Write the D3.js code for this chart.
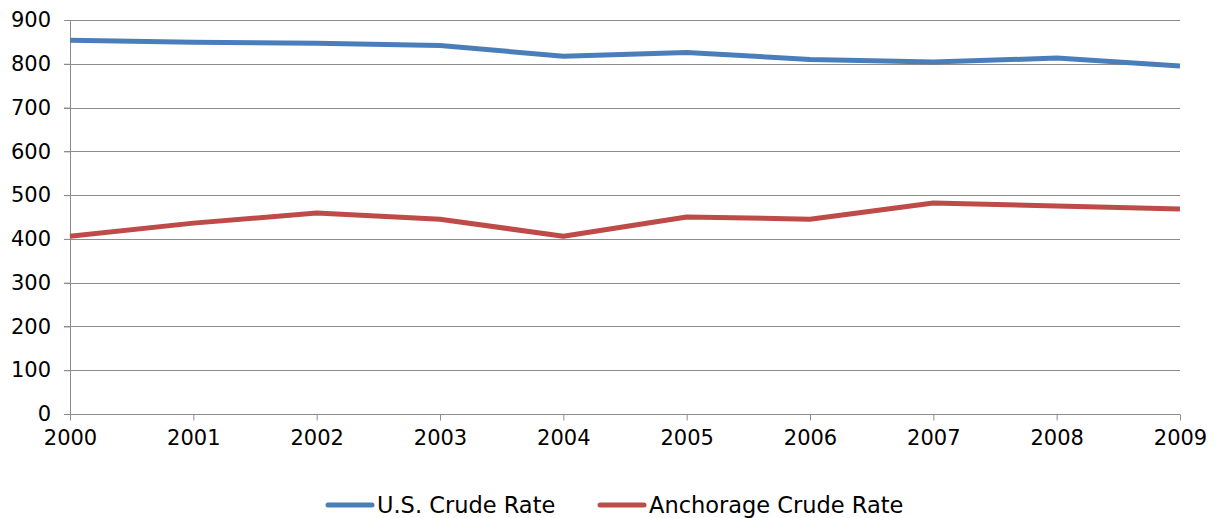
<!DOCTYPE html>
<html>
<head>
<meta charset="utf-8">
<script src="https://cdn.jsdelivr.net/npm/d3@7"></script>
<style>
  body { margin: 0; background: #fff; }
  svg { display: block; }
  svg text { font-family: "DejaVu Sans", sans-serif; fill: #000; }
</style>
</head>
<body>
<div id="chart"></div>
<script>
var years = [2000, 2001, 2002, 2003, 2004, 2005, 2006, 2007, 2008, 2009];
var usRate = [854, 849, 847, 842, 817, 826, 810, 804, 813, 795];
var anchorageRate = [406, 436, 459, 445, 406, 450, 445, 482, 475, 468];
var yTicks = [0, 100, 200, 300, 400, 500, 600, 700, 800, 900];
var seriesNames = ["U.S. Crude Rate", "Anchorage Crude Rate"];
var colors = ["#4a7ebb", "#be4b48"];

var width = 1215, height = 518;
var margin = { top: 20, right: 35, bottom: 104, left: 70 };
var innerWidth = width - margin.left - margin.right,
    innerHeight = height - margin.top - margin.bottom;

var svg = d3.select("#chart").append("svg")
    .attr("width", width)
    .attr("height", height);

var g = svg.append("g")
    .attr("transform", "translate(" + margin.left + "," + margin.top + ")");

var x = d3.scalePoint()
    .domain(years)
    .range([0, innerWidth]);

var y = d3.scaleLinear()
    .domain([0, 900])
    .range([innerHeight, 0]);

// gridlines
g.selectAll(".grid")
    .data(yTicks.filter(d => d > 0))
    .enter().append("line")
    .attr("x1", -6)
    .attr("x2", innerWidth)
    .attr("y1", d => Math.round(y(d)) + 0.5)
    .attr("y2", d => Math.round(y(d)) + 0.5)
    .attr("stroke", "#8c8c8c")
    .attr("stroke-width", 1);

// y axis
var yAxis = d3.axisLeft(y)
    .tickValues(yTicks)
    .tickSize(6)
    .tickPadding(13);

var yg = g.append("g").call(yAxis);
yg.attr("font-family", null).attr("font-size", null);
yg.select(".domain").attr("stroke", "#8c8c8c").attr("d", "M0.5," + innerHeight + "V0");
yg.selectAll(".tick line").attr("stroke", "#8c8c8c");
yg.selectAll(".tick text").style("font-size", "21px");

// x axis
var xAxis = d3.axisBottom(x)
    .tickSize(6)
    .tickPadding(10);

var xg = g.append("g")
    .attr("transform", "translate(0," + (Math.round(innerHeight) + 0.5) + ")")
    .call(xAxis);
xg.attr("font-family", null).attr("font-size", null);
xg.select(".domain").attr("stroke", "#8c8c8c").attr("d", "M-6,0H" + innerWidth);
xg.selectAll(".tick line").attr("stroke", "#8c8c8c");
xg.selectAll(".tick text").style("font-size", "21px");

// lines
var line = d3.line()
    .x((d, i) => x(years[i]))
    .y(d => y(d));

[usRate, anchorageRate].forEach((s, i) => {
    g.append("path")
        .datum(s)
        .attr("fill", "none")
        .attr("stroke", colors[i])
        .attr("stroke-width", 5)
        .attr("stroke-linejoin", "round")
        .attr("d", line);
});

// legend
var legendX = [328, 600];
var legend = svg.selectAll(".legend")
    .data(seriesNames)
    .enter().append("g")
    .attr("transform", (d, i) => "translate(" + legendX[i] + ",505)");

legend.append("line")
    .attr("x1", 0)
    .attr("x2", 44)
    .attr("stroke", (d, i) => colors[i])
    .attr("stroke-width", 5)
    .attr("stroke-linecap", "round");

legend.append("text")
    .attr("x", 49)
    .attr("dy", "0.36em")
    .style("font-size", "22.5px")
    .text(d => d);
</script>
</body>
</html>
